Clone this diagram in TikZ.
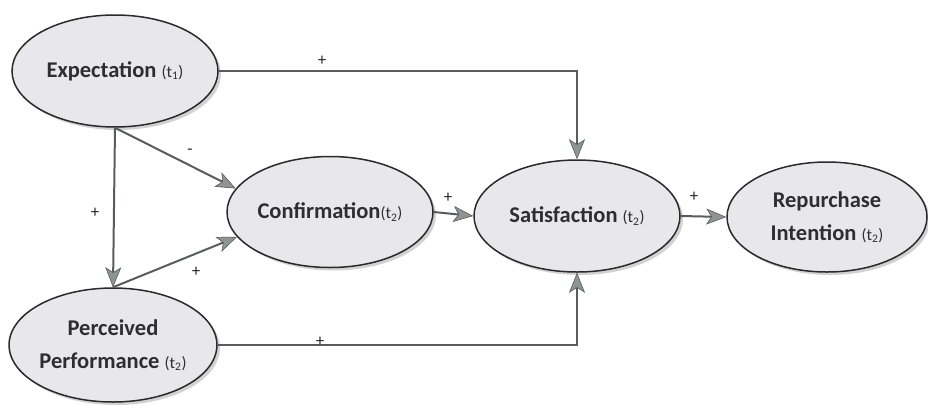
\documentclass[tikz,border=0pt]{standalone}
\usepackage{fontspec}
\setmainfont{Carlito}
\usetikzlibrary{shapes.geometric,arrows.meta,shadows}
\definecolor{linec}{HTML}{5A5C5C}
\definecolor{headc}{HTML}{8E9393}
\definecolor{ellfill}{HTML}{E8E8EC}
\definecolor{ellborder}{HTML}{2A2A2A}
\tikzset{
  construct/.style={ellipse, draw=ellborder, line width=1.5pt, fill=ellfill,
    inner sep=0pt, align=center, text=black!82,
    font=\fontsize{22.5}{33}\selectfont\bfseries,
    drop shadow={shadow xshift=3pt, shadow yshift=-3pt, fill=black!35, opacity=0.5}},
  link/.style={draw=linec, line width=2pt,
    -{Stealth[length=20pt,width=16pt,inset=5pt,fill=headc,color=linec,line width=0.6pt]}},
  sign/.style={font=\fontsize{17}{17}\selectfont, text=black!85, inner sep=0pt}
}
\newcommand{\tsub}[1]{{\fontsize{16.5}{16.5}\selectfont\mdseries(t\textsubscript{#1})}}
\begin{document}
\begin{tikzpicture}[x=1pt,y=-1pt]
\useasboundingbox (0,0) rectangle (928,405);
\node[construct, minimum width=206pt, minimum height=112pt] (E) at (115,71) {Expectation \tsub{1}};
\node[construct, minimum width=206pt, minimum height=111pt] (C) at (330,212) {Confirmation\tsub{2}};
\node[construct, minimum width=206pt, minimum height=112pt] (S) at (577,216) {Satisfaction \tsub{2}};
\node[construct, minimum width=200pt, minimum height=110pt] (R) at (827,217) {Repurchase\\Intention \tsub{2}};
\node[construct, minimum width=206pt, minimum height=114pt] (P) at (113,345) {Perceived\\Performance \tsub{2}};
\draw[link] (E.east) -| (S.north);
\draw[link] (E.south) -- (P.north);
\draw[link] (E.south) -- (C.166);
\draw[link] (P.north) -- (C.195);
\draw[link] (C.east) -- (S.west);
\draw[link] (S.east) -- (R.west);
\draw[link] (P.east) -| (S.south);
\node[sign] (l1) at (322,61) {+};
\node[sign] (l2) at (95,213) {+};
\node[sign] (l3) at (190,152) {-};
\node[sign] (l4) at (196,272) {+};
\node[sign] (l5) at (448,198) {+};
\node[sign] (l6) at (694,197) {+};
\node[sign] (l7) at (320,342) {+};
\end{tikzpicture}
\end{document}
